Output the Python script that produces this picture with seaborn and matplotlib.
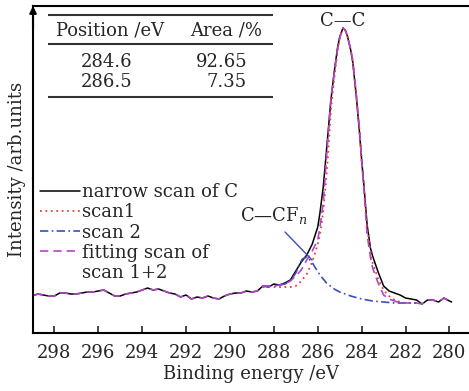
import numpy as np
import pandas as pd
import matplotlib
matplotlib.use("Agg")
import matplotlib.pyplot as plt
from matplotlib.lines import Line2D
import seaborn as sns

# ---------------- data ----------------
narrow_E = [298.9, 298.75, 298.5, 298.25, 298.0, 297.75, 297.5, 297.25, 297.0, 296.75,
            296.5, 296.25, 296.0, 295.75, 295.5, 295.25, 295.0, 294.75, 294.5, 294.25,
            294.0, 293.75, 293.5, 293.25, 293.0, 292.75, 292.5, 292.25, 292.0, 291.75,
            291.5, 291.25, 291.0, 290.75, 290.5, 290.25, 290.0, 289.75, 289.5, 289.25,
            289.0, 288.75, 288.5, 288.25, 288.0, 287.75, 287.5, 287.25, 287.0, 286.75,
            286.5, 286.25, 286.0, 285.9, 285.75, 285.6, 285.5, 285.4, 285.25, 285.1,
            285.0, 284.85, 284.75, 284.65, 284.5, 284.4, 284.25, 284.1, 284.0, 283.9,
            283.75, 283.6, 283.5, 283.25, 283.0, 282.75, 282.5, 282.25, 282.0, 281.75,
            281.5, 281.25, 281.0, 280.75, 280.5, 280.25, 280.0, 279.9]
narrow_I = [38, 39, 38, 37, 37, 40, 40, 39, 39, 40,
            41, 41, 42, 43, 40, 37, 37, 39, 40, 41,
            43, 45, 43, 44, 42, 40, 39, 36, 38, 34,
            36, 35, 37, 35, 34, 37, 39, 40, 40, 42,
            41, 42, 47, 46, 49, 48, 50, 53, 62, 71,
            78, 89, 106, 120, 146, 183, 208, 233, 261, 285,
            296, 305, 303, 297, 283, 270, 238, 201, 173, 148,
            108, 85, 77, 61, 47, 42, 40, 38, 35, 34,
            33, 29, 33, 33, 31, 35, 32, 31]

fit_E = narrow_E
fit_I = [38, 39, 38, 37, 37, 40, 40, 39, 39, 40,
         41, 41, 42, 43, 40, 37, 37, 39, 40, 41,
         43, 45, 43, 44, 42, 40, 39, 36, 38, 34,
         36, 35, 37, 35, 34, 37, 39, 40, 40, 42,
         41, 42, 47, 47, 47, 48, 49, 52, 57, 63,
         73, 82, 93, 106, 130, 176, 205, 235, 259, 284,
         295, 305, 303, 297, 284, 272, 240, 205, 172, 145,
         98, 76, 65, 50, 38, 34, 32, 30, 30, 30,
         30, 29, 33, 33, 31, 35, 32, 31]

scan2_E = [288.5, 288.0, 287.75, 287.5, 287.25, 287.0, 286.85, 286.7, 286.5, 286.3,
           286.1, 285.9, 285.6, 285.25, 285.0, 284.5, 284.0, 283.5, 283.0, 282.5,
           282.0, 281.5]
scan2_I = [47, 47, 48, 49, 52, 60, 68, 74, 76, 72,
           65, 58, 50, 44, 41, 37, 34, 32, 31, 30,
           30, 30]

scan1_E = [288.5, 288.0, 287.5, 287.25, 287.0, 286.75, 286.5, 286.25, 286.0, 285.9,
           285.75, 285.6, 285.5, 285.4, 285.25, 285.1, 285.0, 284.85, 284.75, 284.65,
           284.5, 284.4, 284.25, 284.1, 284.0, 283.9, 283.75, 283.6, 283.5, 283.25,
           283.0, 282.75, 282.5, 282.25, 282.0, 281.5]
scan1_I = [46, 46, 46, 46, 47, 52, 59, 71, 89, 98,
           121, 158, 188, 223, 255, 281, 295, 305, 303, 297,
           283, 271, 238, 203, 173, 147, 105, 83, 70, 54,
           43, 37, 33, 31, 30, 30]

table_pos = ["284.6", "286.5"]
table_area = ["92.65", "7.35"]
xticks = [298, 296, 294, 292, 290, 288, 286, 284, 282, 280]

# ---------------- style ----------------
sns.set_style("ticks")
plt.rcParams["font.family"] = ["DejaVu Serif"]
plt.rcParams["mathtext.fontset"] = "dejavuserif"
FS = 13

fig = plt.figure(figsize=(4.69, 3.91), dpi=100)
ax = fig.add_axes([0.0704, 0.1483, 0.9296, 0.8364])

df_n = pd.DataFrame({"E": narrow_E, "I": narrow_I})
df_1 = pd.DataFrame({"E": scan1_E, "I": scan1_I})
df_2 = pd.DataFrame({"E": scan2_E, "I": scan2_I})
df_f = pd.DataFrame({"E": fit_E, "I": fit_I})

sns.lineplot(data=df_n, x="E", y="I", ax=ax, color="black", lw=1.1,
             label="narrow scan of C", sort=False)
sns.lineplot(data=df_1, x="E", y="I", ax=ax, color="#e8413c", lw=1.3,
             linestyle=(0, (1, 2)), label="scan1", sort=False)
sns.lineplot(data=df_2, x="E", y="I", ax=ax, color="#3a4fb8", lw=1.2,
             linestyle=(0, (5, 2, 1, 2)), label="scan 2", sort=False)
sns.lineplot(data=df_f, x="E", y="I", ax=ax, color="#b545c8", lw=1.2,
             linestyle=(0, (5, 3)), label="fitting scan of", sort=False)

ax.set_xlim(298.97, 279.11)
ax.set_ylim(0, 327)
ax.set_xticks(xticks)
ax.set_xticklabels([str(t) for t in xticks], fontsize=FS)
ax.set_yticks([])
ax.tick_params(axis="x", direction="in", length=5, width=1.2, pad=8)
ax.set_xlabel("Binding energy /eV", fontsize=FS, labelpad=2)
ax.set_ylabel("Intensity /arb.units", fontsize=FS, labelpad=5)

for s in ["left", "bottom", "top"]:
    ax.spines[s].set_linewidth(1.5)
    ax.spines[s].set_color("black")
ax.spines["right"].set_visible(False)

# arrow on the y axis
ax.annotate("", xy=(0, 1.0), xytext=(0, 0.93), xycoords="axes fraction",
            arrowprops=dict(arrowstyle="-|>", color="black", lw=1.5,
                            mutation_scale=10, shrinkA=0, shrinkB=0))

handles, labels = ax.get_legend_handles_labels()
handles.append(Line2D([], [], linestyle="none"))
labels.append("scan 1+2")
leg = ax.legend(handles, labels, loc="upper left", bbox_to_anchor=(0.016, 0.458),
                frameon=False, fontsize=FS, handlelength=2.2, handletextpad=0.15,
                labelspacing=0.12, borderpad=0, borderaxespad=0)

# table
tx = [0.034, 0.550]
for yy in [0.972, 0.884, 0.722]:
    ax.plot(tx, [yy, yy], transform=ax.transAxes, color="#333333", lw=1.5,
            solid_capstyle="butt")
ax.text(0.177, 0.924, "Position /eV", transform=ax.transAxes, fontsize=FS,
        ha="center", va="center")
ax.text(0.443, 0.924, "Area /%", transform=ax.transAxes, fontsize=FS,
        ha="center", va="center")
for row, (p, a) in enumerate(zip(table_pos, table_area)):
    yy = [0.829, 0.768][row]
    ax.text(0.169, yy, p, transform=ax.transAxes, fontsize=FS, ha="center", va="center")
    ax.text(0.491, yy, a, transform=ax.transAxes, fontsize=FS, ha="right", va="center")

# peak labels
ax.text(284.85, 312, "C—C", fontsize=FS, ha="center", va="center")
ax.text(288.0, 118, "C—CF$_{n}$", fontsize=FS, ha="center", va="center")
ax.annotate("", xy=(286.26, 73), xytext=(287.49, 101),
            arrowprops=dict(arrowstyle="-", color="#3a4fb8", lw=1.0,
                            shrinkA=0, shrinkB=0))

fig.savefig("out.png", dpi=100)
